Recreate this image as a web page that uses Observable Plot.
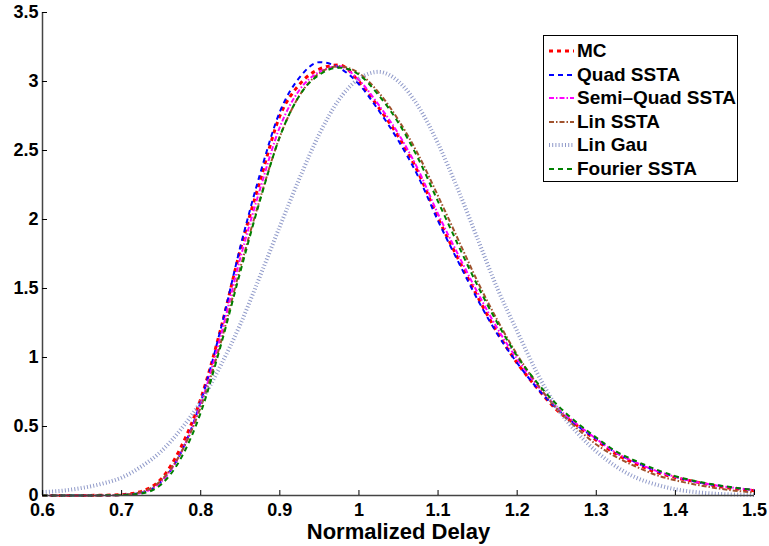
<!DOCTYPE html>
<html>
<head>
<meta charset="utf-8">
<script src="https://cdn.jsdelivr.net/npm/d3@7"></script>
<script src="https://cdn.jsdelivr.net/npm/@observablehq/plot@0.6"></script>
<style>
  html, body { margin: 0; padding: 0; background: #fff; }
  #wrap { position: relative; width: 769px; height: 546px; font-family: "Liberation Sans", Arial, Helvetica, sans-serif; }
  #legend { position: absolute; left: 543px; top: 35px; width: 195px; height: 147px; border: 1px solid #000; background: #fff; box-sizing: border-box; }
  .row { position: absolute; left: 0; height: 24px; display: flex; align-items: center; }
  .row svg { margin-left: 5px; margin-right: 3px; }
  .row span { font-weight: bold; font-size: 19px; color: #000; white-space: nowrap; }
</style>
</head>
<body>
<div id="wrap"></div>
<script>
const xs = [0.600,0.625,0.650,0.675,0.700,0.725,0.750,0.775,0.800,0.825,0.850,0.875,0.900,0.925,0.950,0.975,1.000,1.025,1.050,1.075,1.100,1.125,1.150,1.175,1.200,1.225,1.250,1.275,1.300,1.325,1.350,1.375,1.400,1.425,1.450,1.475,1.500];

const mc       = [0,0,0,0.002,0.006,0.03,0.12,0.35,0.70,1.20,1.78,2.28,2.75,2.98,3.09,3.12,3.00,2.81,2.60,2.34,2.01,1.72,1.44,1.18,0.96,0.78,0.62,0.51,0.40,0.30,0.23,0.17,0.13,0.10,0.07,0.05,0.035];
const quad     = [0,0,0,0.001,0.004,0.02,0.10,0.31,0.68,1.20,1.80,2.33,2.78,3.03,3.14,3.10,2.98,2.79,2.57,2.31,1.99,1.70,1.42,1.17,0.96,0.78,0.63,0.51,0.41,0.31,0.24,0.18,0.135,0.10,0.075,0.055,0.04];
const semiQuad = [0,0,0,0.001,0.004,0.02,0.10,0.31,0.66,1.15,1.72,2.22,2.67,2.94,3.07,3.11,3.01,2.83,2.62,2.36,2.04,1.75,1.47,1.21,0.99,0.80,0.64,0.52,0.41,0.31,0.24,0.18,0.135,0.10,0.075,0.055,0.04];
const linSSTA  = [0,0,0,0.001,0.005,0.025,0.11,0.31,0.64,1.10,1.65,2.15,2.60,2.90,3.06,3.11,3.06,2.92,2.72,2.47,2.17,1.86,1.55,1.27,1.02,0.81,0.63,0.49,0.37,0.28,0.21,0.15,0.11,0.08,0.055,0.035,0.022];
const linGau   = [0.025,0.035,0.055,0.085,0.13,0.21,0.32,0.48,0.68,0.94,1.24,1.59,1.95,2.30,2.62,2.87,3.02,3.07,3.00,2.82,2.55,2.22,1.86,1.50,1.19,0.89,0.64,0.46,0.32,0.21,0.13,0.08,0.045,0.025,0.013,0.007,0.004];
const fourier  = [0,0,0,0.001,0.003,0.015,0.08,0.27,0.60,1.08,1.62,2.14,2.60,2.90,3.05,3.10,3.05,2.90,2.70,2.44,2.13,1.82,1.52,1.25,1.01,0.82,0.66,0.53,0.42,0.32,0.25,0.19,0.14,0.105,0.078,0.057,0.04];

const seriesNames = ["MC", "Quad SSTA", "Semi\u2013Quad SSTA", "Lin SSTA", "Lin Gau", "Fourier SSTA"];
const seriesValues = [mc, quad, semiQuad, linSSTA, linGau, fourier];

const xTicks = [0.6,0.7,0.8,0.9,1.0,1.1,1.2,1.3,1.4,1.5];
const xTickLabels = ["0.6","0.7","0.8","0.9","1","1.1","1.2","1.3","1.4","1.5"];
const yTicks = [0,0.5,1,1.5,2,2.5,3,3.5];
const yTickLabels = ["0","0.5","1","1.5","2","2.5","3","3.5"];
const xLabel = "Normalized Delay";

const styles = [
  {stroke: "#ff0000", strokeWidth: 3, dash: "4,4", opacity: 1},
  {stroke: "#0000ff", strokeWidth: 2, dash: "5,4", opacity: 1},
  {stroke: "#ff00ff", strokeWidth: 2, dash: "5,2,1.5,2", opacity: 1},
  {stroke: "#a0522d", strokeWidth: 2, dash: "5,2,1.5,2", opacity: 1},
  {stroke: "#7d88bf", strokeWidth: 4, dash: "1,2.2", opacity: 0.85},
  {stroke: "#008000", strokeWidth: 2, dash: "5,4", opacity: 1}
];

const W = 769, H = 546, mL = 42, mR = 15, mT = 12, mB = 51;
const plotW = W - mL - mR, plotH = H - mT - mB;

const rows = seriesNames.map((name, s) => xs.map((x, i) => ({name, x, y: seriesValues[s][i]})));

const lineMarks = rows.map((data, s) => Plot.line(data, {
  x: "x", y: "y",
  stroke: styles[s].stroke,
  strokeWidth: styles[s].strokeWidth,
  strokeDasharray: styles[s].dash,
  strokeOpacity: styles[s].opacity,
  strokeLinecap: "butt",
  strokeLinejoin: "miter",
  curve: "monotone-x"
}));

const chart = Plot.plot({
  width: W, height: H,
  marginLeft: mL, marginRight: mR, marginTop: mT, marginBottom: mB,
  style: {fontFamily: "'Liberation Sans', Arial, Helvetica, sans-serif", fontSize: "18px", fontWeight: "bold", color: "#000", background: "#fff"},
  x: {domain: [0.6, 1.5]},
  y: {domain: [0, 3.5]},
  marks: [
    ...lineMarks,
    Plot.ruleY([0], {stroke: "#444", strokeWidth: 1.5}),
    Plot.ruleX([0.6], {stroke: "#444", strokeWidth: 1.5}),
    Plot.tickX(xTicks, {x: d => d, stroke: "#000", insetTop: plotH - 5}),
    Plot.tickY(yTicks, {y: d => d, stroke: "#000", insetRight: plotW - 5}),
    Plot.axisX({ticks: xTicks, tickSize: 0, tickPadding: 8, tickFormat: (d, i) => xTickLabels[i], label: null, fontSize: 18, fontWeight: "bold", fill: "#000"}),
    Plot.axisY({ticks: yTicks, tickSize: 0, tickPadding: 4, tickFormat: (d, i) => yTickLabels[i], label: null, fontSize: 18, fontWeight: "bold", fill: "#000"}),
    Plot.text([xLabel], {text: d => d, frameAnchor: "bottom", dy: 36, fontSize: 22, fontWeight: "bold", fill: "#000", lineAnchor: "middle"})
  ]
});

const wrap = document.getElementById("wrap");
wrap.appendChild(chart);

const legend = document.createElement("div");
legend.id = "legend";
seriesNames.forEach((name, s) => {
  const row = document.createElement("div");
  row.className = "row";
  row.style.top = (3 + s * 23.6) + "px";
  const st = styles[s];
  row.innerHTML = `<svg width="25" height="12"><line x1="0" y1="6" x2="25" y2="6" stroke="${st.stroke}" stroke-width="${st.strokeWidth}" stroke-dasharray="${st.dash}" stroke-opacity="${st.opacity}"/></svg><span>${name}</span>`;
  legend.appendChild(row);
});
wrap.appendChild(legend);
</script>
</body>
</html>
